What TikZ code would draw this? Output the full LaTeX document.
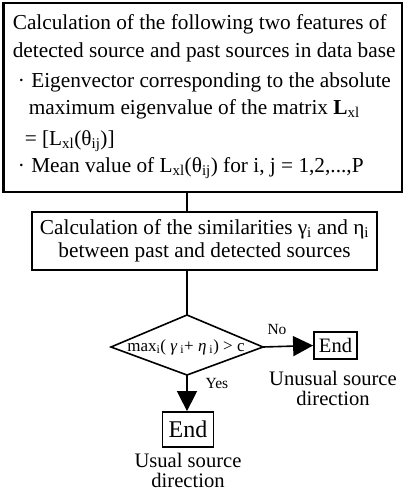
\documentclass[tikz,border=0pt]{standalone}
\usepackage{fontspec}
\setmainfont{Liberation Serif}
\usetikzlibrary{arrows.meta}
\begin{document}
\begin{tikzpicture}[x=1pt,y=-1pt,line width=1.6pt,
  boxline/.style={draw,line width=1.8pt,inner sep=0pt},
  txt/.style={anchor=base west,inner sep=0pt,font=\fontsize{21.3}{23}\selectfont},
  lbl/.style={inner sep=0pt,font=\fontsize{15.5}{17}\selectfont},
  captxt/.style={inner sep=0pt,align=center,font=\fontsize{20.6}{20}\selectfont},
  arr/.style={-{Triangle[length=20pt,width=20pt]},line width=1.6pt}]
\useasboundingbox (0,0) rectangle (403,491);
% top box
\node (top) [boxline,line width=2.2pt,anchor=north west,minimum width=398pt,minimum height=189pt] at (2.5,1.5) {};
\node (t1) [txt] at (12,29) {Calculation of the following two features of};
\node (t2) [txt] at (12,57) {detected source and past sources in data base};
\node (t3) [txt] at (17,87) {·\hspace{0.3em}Eigenvector corresponding to the absolute};
\node (t4) [txt] at (28,114) {maximum eigenvalue of the matrix \textbf{L}\textsubscript{xl}};
\node (t5) [txt] at (24,145) {= [L\textsubscript{xl}(θ\textsubscript{ij})]};
\node (t6) [txt] at (17,172) {·\hspace{0.3em}Mean value of L\textsubscript{xl}(θ\textsubscript{ij}) for i, j = 1,2,...,P};
% similarity box
\node (sim) [boxline,minimum width=345pt,minimum height=58pt,align=center,
  font=\fontsize{21.3}{23}\selectfont] at (204.5,241)
  {Calculation of the similarities γ\textsubscript{i} and η\textsubscript{i}\\between past and detected sources};
% decision diamond
\coordinate (dT) at (187,315);
\coordinate (dL) at (111,347);
\coordinate (dR) at (263,347);
\coordinate (dB) at (187,375);
\draw[line width=1.6pt] (dT) -- (dR) -- (dB) -- (dL) -- cycle;
\node (dec) [inner sep=0pt,font=\fontsize{17}{18}\selectfont] at (186,347) {max\textsubscript{i}( \textit{γ}\textsubscript{ i}+ \textit{η}\textsubscript{ i}) > c};
% connectors
\draw (top.south -| dT) -- (sim.north -| dT);
\draw (sim.south -| dT) -- (dT);
% end boxes
\node (endR) [boxline,minimum width=43pt,minimum height=27pt,inner sep=0pt,font=\fontsize{20.5}{22}\selectfont] at (335.5,345.5) {End};
\node (endB) [boxline,minimum width=51pt,minimum height=35pt,inner sep=0pt,font=\fontsize{24}{26}\selectfont] at (188,429.5) {End};
\draw[arr] (dR) -- (endR.west);
\draw[arr] (dB) -- (endB.north -| dB);
\node (no) [lbl] at (277,329) {No};
\node (yes) [lbl] at (217,383) {Yes};
\node (capR) [captxt,anchor=base] at (333,405) {Unusual source\\direction};
\node (capB) [captxt,anchor=base] at (188,487) {Usual source\\direction};
\end{tikzpicture}
\end{document}
